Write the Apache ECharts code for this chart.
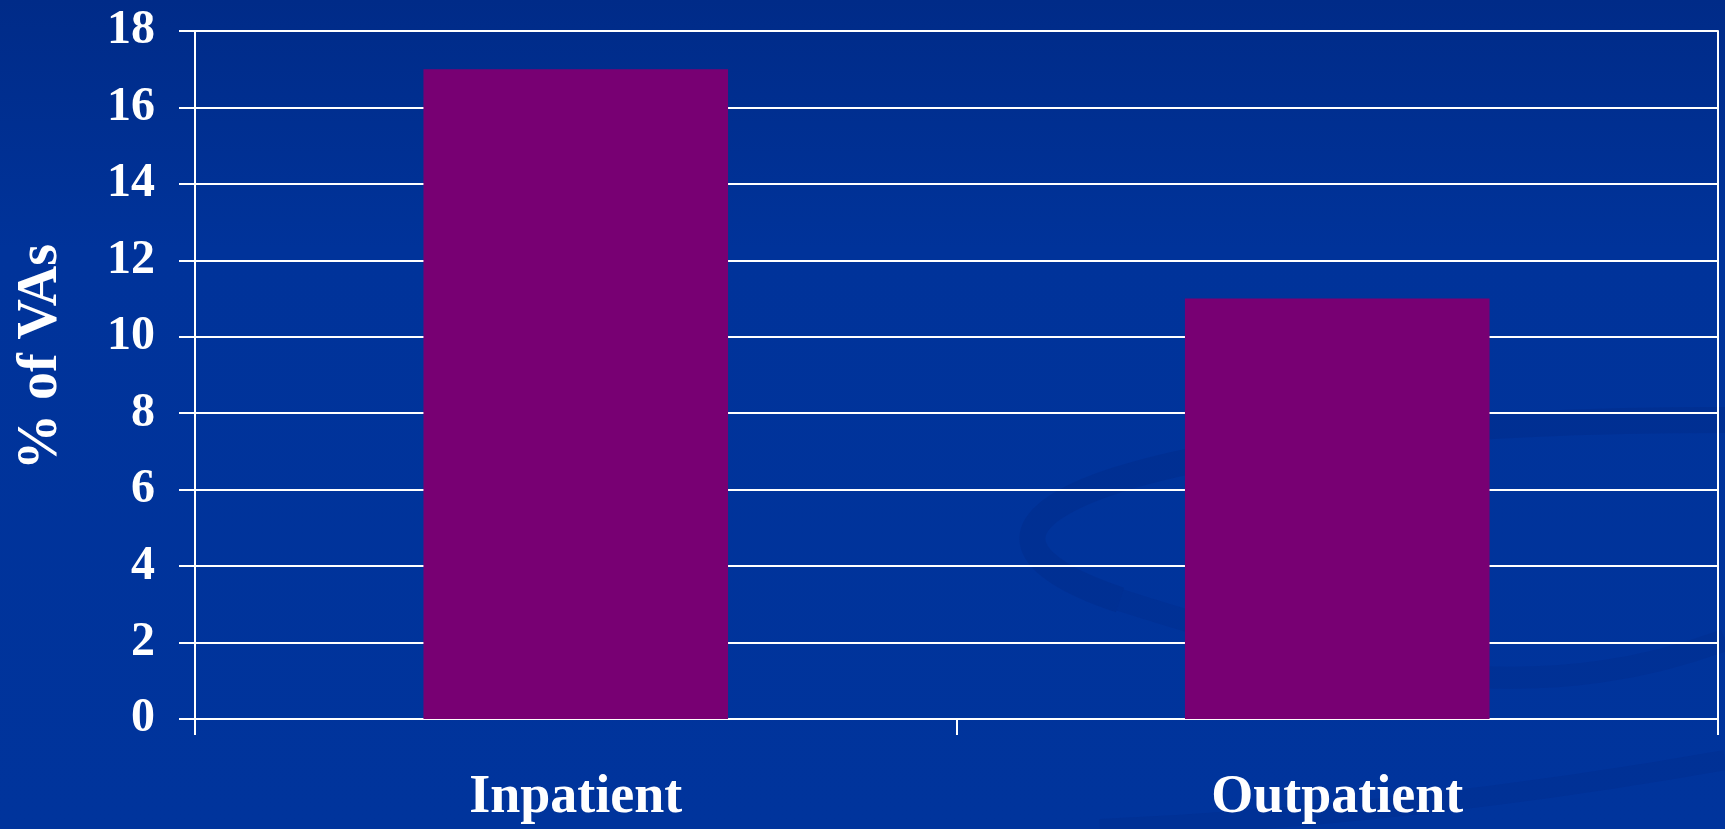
<!DOCTYPE html>
<html>
<head>
<meta charset="utf-8">
<script src="https://cdn.jsdelivr.net/npm/echarts@6/dist/echarts.min.js"></script>
<style>
  html, body { margin: 0; padding: 0; }
  body { background: linear-gradient(180deg, #002b88 0%, #00339a 30%, #00349c 100%); }
  #chart { width: 1725px; height: 829px; }
</style>
</head>
<body>
<div id="chart"></div>
<script>
// Share of VAs by care setting
const categories = ['Inpatient', 'Outpatient'];
const percentVAs = [17, 11];
const yTicks = { min: 0, max: 18, interval: 2 };

const font = '"Liberation Serif", "DejaVu Serif", serif';
const chart = echarts.init(document.getElementById('chart'));

chart.setOption({
  backgroundColor: 'transparent',
  animation: false,
  graphic: [
    // faint swirl in the lower right corner
    {
      type: 'bezierCurve', silent: true, z: -10,
      shape: { x1: 1725, y1: 420, cpx1: 1150, cpy1: 420, cpx2: 880, cpy2: 520, x2: 1120, y2: 600 },
      style: { stroke: 'rgba(0,40,130,0.3)', lineWidth: 26, fill: null }
    },
    {
      type: 'bezierCurve', silent: true, z: -10,
      shape: { x1: 1120, y1: 600, cpx1: 1400, cpy1: 690, cpx2: 1560, cpy2: 700, x2: 1725, y2: 640 },
      style: { stroke: 'rgba(0,40,130,0.25)', lineWidth: 22, fill: null }
    },
    {
      type: 'bezierCurve', silent: true, z: -10,
      shape: { x1: 1725, y1: 760, cpx1: 1500, cpy1: 800, cpx2: 1300, cpy2: 820, x2: 1100, y2: 829 },
      style: { stroke: 'rgba(0,40,130,0.25)', lineWidth: 20, fill: null }
    }
  ],
  grid: { left: 195, right: 7, top: 31, bottom: 110, containLabel: false, outerBoundsMode: 'none' },
  xAxis: {
    type: 'category',
    data: categories,
    axisLine: { show: true, lineStyle: { color: '#ffffff', width: 2 } },
    axisTick: { show: true, length: 16, lineStyle: { color: '#ffffff', width: 2 } },
    axisLabel: {
      color: '#ffffff', fontFamily: font, fontWeight: 'bold', fontSize: 54, margin: 52
    },
    splitLine: { show: false }
  },
  yAxis: [
    {
      type: 'value',
      min: yTicks.min, max: yTicks.max, interval: yTicks.interval,
      name: '% of VAs',
      nameLocation: 'middle',
      nameGap: 125,
      nameRotate: 90,
      nameTextStyle: { color: '#ffffff', fontFamily: font, fontWeight: 'bold', fontSize: 56, padding: [0, 0, 0, 36] },
      axisLine: { show: true, lineStyle: { color: '#ffffff', width: 2 } },
      axisTick: { show: true, length: 16, lineStyle: { color: '#ffffff', width: 2 } },
      axisLabel: { color: '#ffffff', fontFamily: font, fontWeight: 'bold', fontSize: 48, margin: 40 },
      splitLine: { show: true, lineStyle: { color: '#ffffff', width: 2 } }
    },
    {
      type: 'value',
      position: 'right',
      min: yTicks.min, max: yTicks.max, interval: yTicks.interval,
      axisLine: { show: true, lineStyle: { color: '#ffffff', width: 2 } },
      axisTick: { show: false },
      axisLabel: { show: false },
      splitLine: { show: false }
    }
  ],
  series: [
    {
      type: 'bar',
      data: percentVAs,
      barWidth: '40%',
      itemStyle: { color: '#780073' }
    }
  ]
});
</script>
</body>
</html>
